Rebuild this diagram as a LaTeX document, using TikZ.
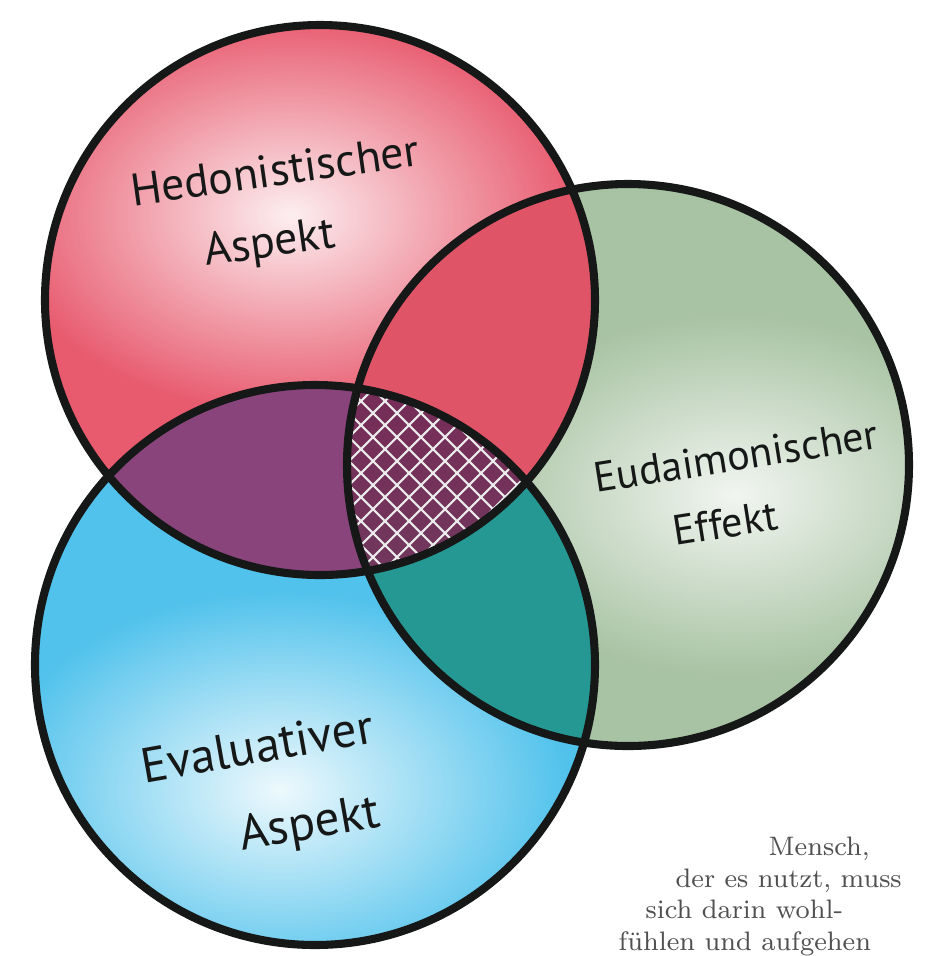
\documentclass[tikz,border=0pt]{standalone}
\usepackage{fontspec}
\newfontfamily\handfont{PT Sans}
\usetikzlibrary{positioning,fadings}
\usepackage{xcolor}

\definecolor{hedRed}{RGB}{232,90,110}
\definecolor{eudGreen}{RGB}{168,195,163}
\definecolor{evaBlue}{RGB}{80,194,236}
\definecolor{hedEudMix}{RGB}{224,84,103}
\definecolor{hedEvaMix}{RGB}{138,68,124}
\definecolor{eudEvaMix}{RGB}{38,152,148}
\definecolor{allMixTop}{RGB}{118,44,86}
\definecolor{allMixBot}{RGB}{104,78,108}
\definecolor{inkBlack}{RGB}{22,24,24}
\definecolor{noteGrey}{RGB}{80,80,80}

\tikzfading[name=glowFade, inner color=transparent!0, outer color=transparent!100]

\newcommand{\hedCircle}{(320,300) circle (275)}
\newcommand{\eudCircle}{(628,465) circle (281)}
\newcommand{\evaCircle}{(315,665) circle (280)}

\begin{document}
\begin{tikzpicture}[
    x=0.01cm, y=-0.01cm,
    ring/.style={draw=inkBlack, line width=2.3pt},
    hand/.style={font=\handfont\fontsize{13}{19}\selectfont, text=inkBlack, inner sep=0pt},
    glow/.style={fill=white, path fading=glowFade},
    note/.style={font=\fontsize{7.6}{9}\selectfont, text=noteGrey, anchor=base west, inner sep=0pt},
    hatch/.style={draw=white!92!black, line width=0.6pt}
]
\useasboundingbox (0,0) rectangle (935,956);

% Base fills
\fill[hedRed] \hedCircle;
\fill[eudGreen] \eudCircle;
\fill[evaBlue] \evaCircle;

% Light washes behind the labels
\begin{scope}
  \clip \hedCircle;
  \fill[glow, fill opacity=0.9] (290,215) ellipse (290 and 200);
\end{scope}
\begin{scope}
  \clip \eudCircle;
  \fill[glow, fill opacity=0.85] (735,495) ellipse (270 and 180);
\end{scope}
\begin{scope}
  \clip \evaCircle;
  \fill[glow, fill opacity=0.9] (280,790) ellipse (290 and 200);
\end{scope}

% Overlaps
\begin{scope}
  \clip \hedCircle;
  \fill[hedEudMix] \eudCircle;
\end{scope}
\begin{scope}
  \clip \hedCircle;
  \fill[hedEvaMix] \evaCircle;
\end{scope}
\begin{scope}
  \clip \eudCircle;
  \fill[eudEvaMix] \evaCircle;
\end{scope}
\begin{scope}
  \clip \hedCircle;
  \clip \eudCircle;
  \shade[top color=allMixTop, bottom color=allMixBot] \evaCircle;
  \clip \evaCircle;
  \foreach \k in {0,...,30} {
    \draw[hatch] (330+24*\k,360) -- ++(-260,260);
    \draw[hatch] (80+24*\k,360) -- ++(260,260);
  }
\end{scope}

% Outlines
\draw[ring] \hedCircle;
\draw[ring] \eudCircle;
\draw[ring] \evaCircle;

% Labels
\node[hand, rotate=8] (hedTop) at (275,170) {Hedonistischer};
\node[hand, rotate=8] (hedBot) at (270,245) {Aspekt};
\node[hand, rotate=9, font=\handfont\fontsize{12}{18}\selectfont] (eudTop) at (736,456) {Eudaimonischer};
\node[hand, rotate=9, font=\handfont\fontsize{12}{18}\selectfont] (eudBot) at (725,523) {Effekt};
\node[hand, rotate=10, font=\handfont\fontsize{14}{21}\selectfont] (evaTop) at (257,746) {Evaluativer};
\node[hand, rotate=10, font=\handfont\fontsize{14}{21}\selectfont] (evaBot) at (310,826) {Aspekt};

% Note
\node[note] (noteA) at (768,855) {Mensch,};
\node[note] (noteB) at (675,887) {der es nutzt, muss};
\node[note] (noteC) at (645,918) {sich darin wohl-};
\node[note] (noteD) at (618,950) {fühlen und aufgehen};

\end{tikzpicture}
\end{document}
